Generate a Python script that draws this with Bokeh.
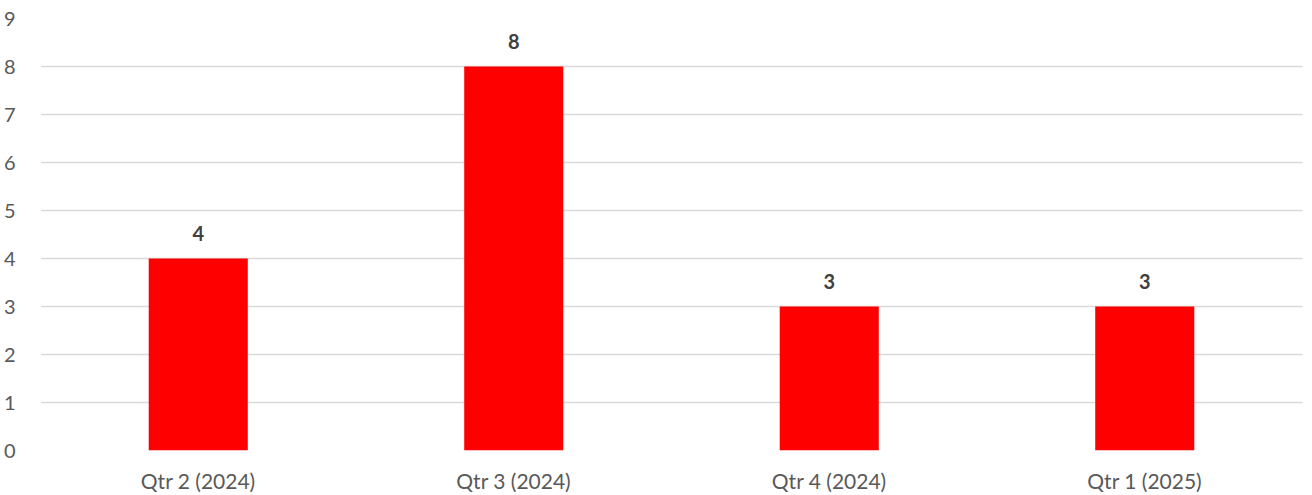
from bokeh.plotting import figure
from bokeh.models import ColumnDataSource, LabelSet, Range1d, FactorRange
from bokeh.core.properties import value
from bokeh.embed import file_html
from bokeh.resources import INLINE

categories = ["Qtr 2 (2024)", "Qtr 3 (2024)", "Qtr 4 (2024)", "Qtr 1 (2025)"]
values = [4, 8, 3, 3]
y_ticks = [0, 1, 2, 3, 4, 5, 6, 7, 8, 9]

FONT = "Lato"

src = ColumnDataSource(dict(cat=categories, val=values, lbl=[str(v) for v in values]))

p = figure(width=1312, height=495, x_range=FactorRange(*categories, range_padding=0),
           y_range=Range1d(0, 9), output_backend="svg", toolbar_location=None,
           min_border_left=40, min_border_right=10, min_border_top=18, min_border_bottom=0)
p.outline_line_color = None
p.background_fill_color = "white"
p.border_fill_color = "white"

p.vbar(x="cat", top="val", width=0.314, source=src, fill_color="#ff0000", line_color=None)

p.xgrid.grid_line_color = None
p.ygrid.grid_line_color = "#d9d9d9"
p.ygrid.grid_line_width = 1.5
p.yaxis.ticker = y_ticks

for ax in (p.xaxis[0], p.yaxis[0]):
    ax.axis_line_color = None
    ax.major_tick_line_color = None
    ax.minor_tick_line_color = None
    ax.major_label_text_font = FONT
    ax.major_label_text_color = "#595959"

p.yaxis.major_label_text_font_size = "20px"
p.xaxis.major_label_text_font_size = "21px"
p.yaxis.major_label_standoff = 19
p.xaxis.major_label_standoff = 11

labels = LabelSet(x="cat", y="val", text="lbl", source=src, y_offset=25,
                  text_align="center", text_baseline="middle",
                  text_font=value(FONT), text_font_style="bold", text_font_size="20px",
                  text_color="#404040")
p.add_layout(labels)

open("out.html", "w").write(file_html(p, INLINE))
